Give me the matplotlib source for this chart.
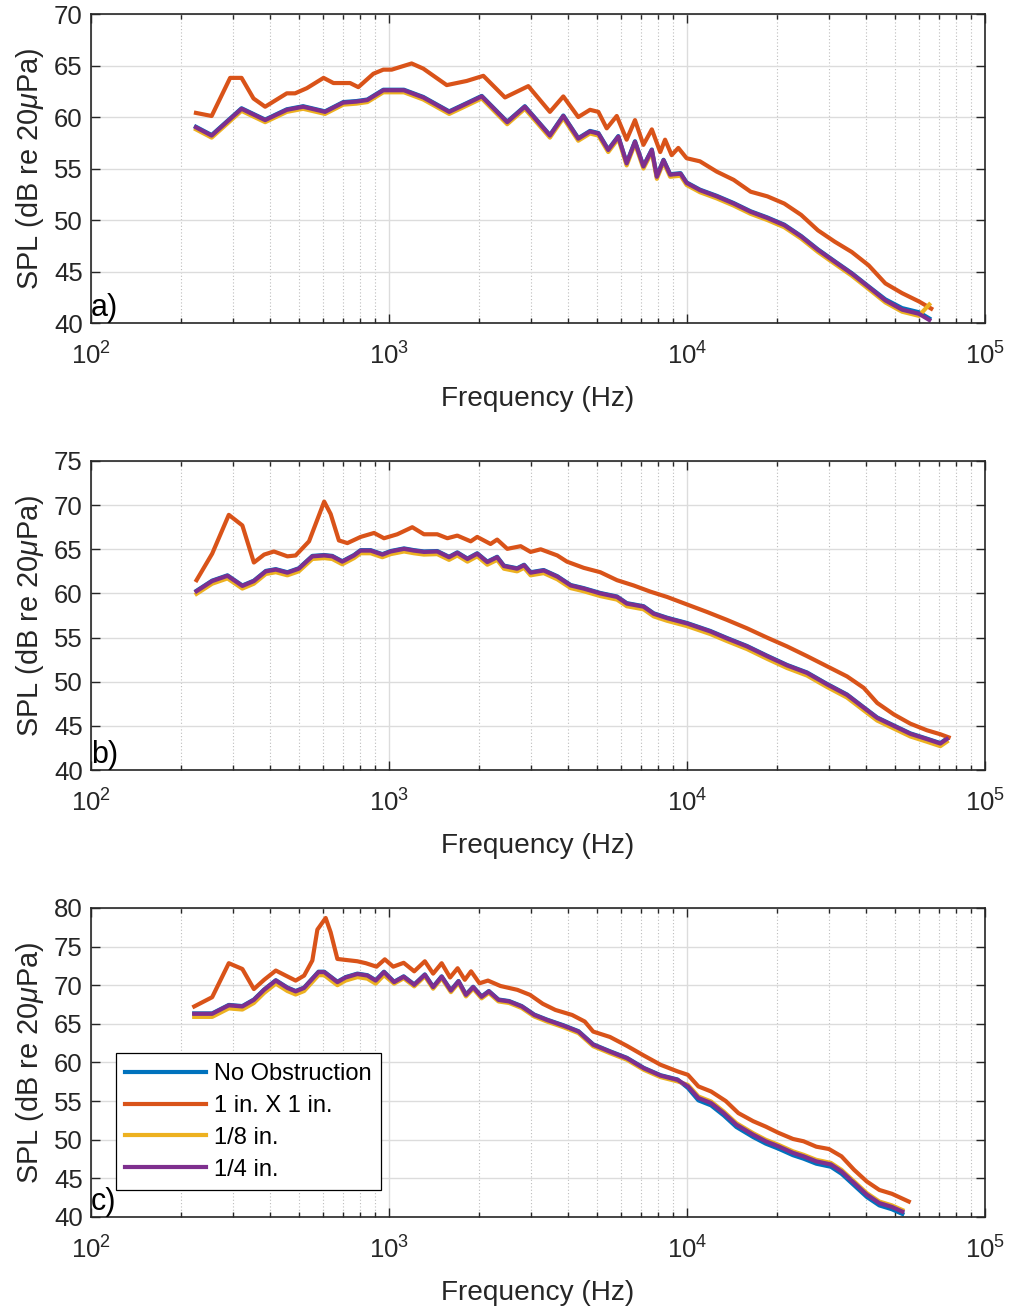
import matplotlib
matplotlib.use("Agg")
import matplotlib.pyplot as plt
from matplotlib.ticker import MultipleLocator, LogLocator, NullFormatter

plt.rcParams["font.family"] = ["Liberation Sans", "DejaVu Sans"]
plt.rcParams["mathtext.fontset"] = "custom"
plt.rcParams["mathtext.rm"] = "Liberation Sans"
plt.rcParams["mathtext.it"] = "Liberation Sans:italic"

# MATLAB default line colours
C_BLUE = "#0072BD"
C_ORANGE = "#D95319"
C_YELLOW = "#EDB120"
C_PURPLE = "#7E2F8E"

labels = ["No Obstruction", "1 in. X 1 in.", "1/8 in.", "1/4 in."]

# ---- panel a) ----
freq_a = [225, 254, 320, 384, 454, 515, 610, 702, 778, 846,
          957, 1122, 1303, 1592, 1822, 2047, 2492, 2856, 3467, 3845,
          4316, 4725, 5041, 5440, 5880, 6272, 6690, 7140, 7619, 7920,
          8340, 8780, 9510, 9970, 11050, 12580, 14340, 16350, 18600, 21200,
          24150, 27500, 31300, 35700, 40700, 46300, 52700, 60000, 65000]
none_a = [59.05, 58.25, 60.85, 59.75, 60.75, 61.05, 60.55, 61.45, 61.55, 61.7,
          62.65, 62.65, 61.95, 60.55, 61.35, 62.05, 59.55, 61.05, 58.25, 60.15,
          57.95, 58.65, 58.45, 56.85, 58.15, 55.55, 57.65, 55.25, 56.85, 54.25,
          55.85, 54.45, 54.55, 53.65, 52.95, 52.35, 51.65, 50.85, 50.25, 49.55,
          48.45, 47.15, 46.0, 44.85, 43.55, 42.3, 41.45, 41.05, 40.45]
eighth_a = [58.8, 58.0, 60.6, 59.5, 60.5, 60.8, 60.3, 61.2, 61.3, 61.45,
            62.4, 62.4, 61.7, 60.3, 61.1, 61.8, 59.3, 60.8, 58.0, 59.9,
            57.7, 58.4, 58.2, 56.6, 57.9, 55.3, 57.4, 55.0, 56.6, 54.0,
            55.6, 54.2, 54.3, 53.4, 52.7, 52.1, 51.4, 50.6, 50.0, 49.3,
            48.2, 46.9, 45.75, 44.6, 43.3, 42.0, 41.1, 40.7, 41.8]
quarter_a = [59.0, 58.2, 60.8, 59.7, 60.7, 61.0, 60.5, 61.4, 61.5, 61.65,
             62.6, 62.6, 61.9, 60.5, 61.3, 62.0, 59.5, 61.0, 58.2, 60.1,
             57.9, 58.6, 58.4, 56.8, 58.1, 55.5, 57.6, 55.2, 56.8, 54.2,
             55.8, 54.4, 54.5, 53.6, 52.9, 52.3, 51.6, 50.8, 50.2, 49.5,
             48.4, 47.1, 45.95, 44.8, 43.5, 42.2, 41.3, 40.9, 40.3]
freq_box_a = [225, 254, 293, 320, 351, 384, 454, 484, 530, 603,
              651, 740, 789, 886, 957, 1021, 1191, 1303, 1562, 1822,
              2073, 2450, 2934, 3467, 3845, 4316, 4725, 5041, 5377, 5810,
              6272, 6690, 7140, 7619, 8130, 8440, 8880, 9350, 9970, 11050,
              12580, 14340, 16350, 18600, 21200, 24150, 27500, 31300, 35700, 40700,
              46300, 52700, 60000, 66000]
box_a = [60.4, 60.1, 63.8, 63.8, 61.8, 61.0, 62.3, 62.3, 62.8, 63.8,
         63.3, 63.3, 62.9, 64.2, 64.6, 64.6, 65.2, 64.7, 63.1, 63.5,
         64.0, 61.9, 63.0, 60.5, 62.0, 60.0, 60.7, 60.5, 58.9, 60.1,
         57.8, 59.7, 57.3, 58.8, 56.6, 57.8, 56.3, 57.0, 56.0, 55.7,
         54.7, 53.9, 52.75, 52.3, 51.6, 50.5, 49.0, 47.9, 46.9, 45.6,
         43.85, 42.9, 42.1, 41.4]

# ---- panel b) ----
freq_b = [226, 255, 287, 322, 352, 386, 417, 456, 498, 553,
          606, 645, 697, 763, 803, 868, 950, 1013, 1123, 1213,
          1310, 1452, 1590, 1695, 1833, 1977, 2137, 2306, 2430, 2691,
          2840, 2986, 3304, 3671, 4073, 4500, 5118, 5823, 6280, 7150,
          7730, 8574, 10000, 11970, 13620, 15890, 18550, 21660, 25270, 29500,
          34440, 39190, 43460, 49400, 56150, 63850, 70800, 74400]
none_b = [60.3, 61.45, 62.05, 60.9, 61.45, 62.55, 62.75, 62.4, 62.85, 64.25,
          64.35, 64.25, 63.65, 64.35, 64.9, 64.9, 64.45, 64.8, 65.1, 64.9,
          64.75, 64.8, 64.15, 64.65, 63.95, 64.55, 63.6, 64.15, 63.15, 62.85,
          63.25, 62.4, 62.65, 61.95, 60.95, 60.6, 60.05, 59.65, 58.9, 58.55,
          57.75, 57.25, 56.65, 55.75, 54.95, 54.05, 52.95, 51.9, 51.05, 49.75,
          48.55, 47.1, 45.95, 45.05, 44.15, 43.55, 43.05, 43.55]
eighth_b = [59.95, 61.1, 61.7, 60.55, 61.1, 62.2, 62.4, 62.05, 62.5, 63.9,
            64.0, 63.9, 63.3, 64.0, 64.55, 64.55, 64.1, 64.45, 64.75, 64.55,
            64.4, 64.45, 63.8, 64.3, 63.6, 64.2, 63.25, 63.8, 62.8, 62.5,
            62.9, 62.05, 62.3, 61.6, 60.6, 60.25, 59.7, 59.3, 58.55, 58.2,
            57.4, 56.9, 56.3, 55.4, 54.6, 53.7, 52.6, 51.55, 50.7, 49.4,
            48.2, 46.75, 45.6, 44.7, 43.8, 43.2, 42.7, 43.2]
quarter_b = [60.25, 61.4, 62.0, 60.85, 61.4, 62.5, 62.7, 62.35, 62.8, 64.2,
             64.3, 64.2, 63.6, 64.3, 64.85, 64.85, 64.4, 64.75, 65.05, 64.85,
             64.7, 64.75, 64.1, 64.6, 63.9, 64.5, 63.55, 64.1, 63.1, 62.8,
             63.2, 62.35, 62.6, 61.9, 60.9, 60.55, 60.0, 59.6, 58.85, 58.5,
             57.7, 57.2, 56.6, 55.7, 54.9, 54.0, 52.9, 51.85, 51.0, 49.7,
             48.5, 47.05, 45.9, 45.0, 44.1, 43.5, 43.0, 43.5]
freq_box_b = [226, 255, 290, 322, 352, 381, 411, 456, 486, 539,
              606, 637, 679, 725, 803, 891, 962, 1066, 1197, 1310,
              1452, 1570, 1695, 1880, 1977, 2191, 2306, 2494, 2766, 2986,
              3228, 3671, 3955, 4500, 5118, 5823, 6624, 7538, 8574, 10000,
              11670, 13620, 15890, 18550, 21660, 25270, 29500, 34440, 39190, 43460,
              49400, 56150, 63850, 70800, 75500]
box_b = [61.5, 64.5, 68.9, 67.7, 63.5, 64.4, 64.75, 64.2, 64.3, 65.9,
         70.4, 69.0, 66.0, 65.7, 66.4, 66.85, 66.25, 66.7, 67.5, 66.7,
         66.7, 66.25, 66.55, 65.9, 66.4, 65.6, 66.1, 65.05, 65.35, 64.7,
         65.0, 64.3, 63.6, 62.9, 62.4, 61.5, 60.9, 60.2, 59.6, 58.75,
         57.9, 57.0, 56.05, 55.0, 54.0, 52.9, 51.75, 50.6, 49.3, 47.6,
         46.3, 45.25, 44.5, 44.05, 43.7]

# ---- panel c) ----
freq_c = [222, 255, 290, 322, 352, 381, 417, 456, 486, 519,
          580, 606, 671, 715, 783, 846, 902, 962, 1040, 1120,
          1215, 1319, 1406, 1502, 1613, 1711, 1812, 1916, 2045, 2163,
          2330, 2529, 2788, 3072, 3388, 3857, 4323, 4843, 5515, 6285,
          7161, 8155, 9290, 10070, 10920, 12040, 13280, 14640, 16670, 18370,
          20250, 22680, 24610, 27150, 30400, 32990, 36370, 40100, 44200, 48720,
          52800]
none_c = [66.35, 66.35, 67.45, 67.3, 68.15, 69.45, 70.65, 69.7, 69.25, 69.7,
          71.75, 71.75, 70.45, 71.05, 71.5, 71.3, 70.65, 71.75, 70.45, 71.15,
          70.1, 71.4, 69.8, 71.15, 69.35, 70.55, 68.8, 69.8, 68.55, 69.25,
          68.15, 67.95, 67.3, 66.2, 65.55, 64.8, 64.05, 62.35, 61.45, 60.6,
          59.3, 58.35, 57.8, 56.7, 55.1, 54.45, 53.15, 51.65, 50.35, 49.5,
          48.85, 48.0, 47.55, 46.9, 46.5, 45.6, 44.1, 42.6, 41.5, 41.0,
          40.4]
eighth_c = [65.9, 65.9, 67.0, 66.85, 67.7, 69.0, 70.2, 69.25, 68.8, 69.25,
            71.3, 71.3, 70.0, 70.6, 71.05, 70.85, 70.2, 71.3, 70.2, 70.9,
            69.85, 71.15, 69.55, 70.9, 69.1, 70.3, 68.55, 69.55, 68.3, 69.0,
            67.9, 67.7, 67.05, 65.95, 65.3, 64.55, 63.8, 62.1, 61.2, 60.35,
            59.05, 58.1, 57.55, 57.1, 55.6, 54.95, 53.65, 52.15, 50.85, 50.0,
            49.35, 48.5, 48.05, 47.4, 47.0, 46.1, 44.6, 43.1, 42.0, 41.5,
            40.9]
quarter_c = [66.3, 66.3, 67.4, 67.25, 68.1, 69.4, 70.6, 69.65, 69.2, 69.65,
             71.7, 71.7, 70.4, 71.0, 71.45, 71.25, 70.6, 71.7, 70.4, 71.1,
             70.05, 71.35, 69.75, 71.1, 69.3, 70.5, 68.75, 69.75, 68.5, 69.2,
             68.1, 67.9, 67.25, 66.15, 65.5, 64.75, 64.0, 62.3, 61.4, 60.55,
             59.25, 58.3, 57.75, 56.9, 55.4, 54.75, 53.45, 51.95, 50.65, 49.8,
             49.15, 48.3, 47.85, 47.2, 46.8, 45.9, 44.4, 42.9, 41.8, 41.3,
             40.7]
freq_box_c = [222, 255, 290, 322, 352, 381, 417, 450, 486, 519,
              553, 575, 613, 637, 671, 706, 783, 836, 908, 968,
              1033, 1120, 1215, 1319, 1406, 1502, 1603, 1699, 1796, 1885,
              2012, 2148, 2366, 2697, 2973, 3280, 3616, 4115, 4537, 4843,
              5515, 6285, 7161, 8155, 9290, 10070, 10920, 12040, 13500, 14870,
              16670, 18370, 20250, 22680, 24610, 27150, 29930, 32990, 36370, 40100,
              44200, 48720, 55480]
box_c = [67.25, 68.45, 72.85, 72.1, 69.5, 70.7, 71.9, 71.25, 70.6, 71.25,
         73.2, 77.2, 78.7, 76.85, 73.4, 73.3, 73.1, 72.85, 72.4, 73.35,
         72.4, 72.9, 71.8, 73.1, 71.5, 72.85, 71.0, 72.2, 70.7, 71.8,
         70.25, 70.6, 69.9, 69.4, 68.75, 67.6, 66.8, 66.15, 65.3, 64.0,
         63.3, 62.15, 60.9, 59.7, 58.85, 58.4, 56.9, 56.25, 55.0, 53.45,
         52.4, 51.7, 50.9, 50.1, 49.8, 49.1, 48.8, 47.85, 46.1, 44.6,
         43.5, 43.0, 42.0]

panels = [
    ("a)", 70, freq_a, none_a, eighth_a, quarter_a, freq_box_a, box_a),
    ("b)", 75, freq_b, none_b, eighth_b, quarter_b, freq_box_b, box_b),
    ("c)", 80, freq_c, none_c, eighth_c, quarter_c, freq_box_c, box_c),
]

# axes rectangles in figure fraction (left, bottom, width, height)
rects = [
    (0.0894, 0.7534, 0.8782, 0.2359),
    (0.0894, 0.4122, 0.8782, 0.2359),
    (0.0894, 0.0710, 0.8782, 0.2359),
]

LW = 3.0
AX_COL = "#262626"

fig = plt.figure(figsize=(10.18, 13.10), dpi=100)

for (tag, ytop, f, y_none, y_eighth, y_quarter, f_box, y_box), rect in zip(panels, rects):
    ax = fig.add_axes(rect)
    ax.plot(f, y_none, color=C_BLUE, lw=LW, label=labels[0])
    ax.plot(f_box, y_box, color=C_ORANGE, lw=LW, label=labels[1])
    ax.plot(f, y_eighth, color=C_YELLOW, lw=LW, label=labels[2])
    ax.plot(f, y_quarter, color=C_PURPLE, lw=LW, label=labels[3])

    ax.set_xscale("log")
    ax.set_xlim(1e2, 1e5)
    ax.set_ylim(40, ytop)
    ax.yaxis.set_major_locator(MultipleLocator(5))
    ax.xaxis.set_major_locator(LogLocator(base=10, numticks=10))
    ax.xaxis.set_minor_locator(LogLocator(base=10, subs=range(2, 10), numticks=20))
    ax.xaxis.set_minor_formatter(NullFormatter())

    ax.grid(True, which="major", color="#dcdcdc", lw=1.0, ls="-")
    ax.grid(True, which="minor", axis="x", color="#bdbdbd", lw=0.8, ls=(0, (1, 2)))
    ax.set_axisbelow(True)

    for sp in ax.spines.values():
        sp.set_color(AX_COL)
        sp.set_linewidth(1.2)
    ax.tick_params(which="both", direction="in", top=True, right=True,
                   color=AX_COL, labelcolor=AX_COL, width=1.0)
    ax.tick_params(which="major", length=6.5, labelsize=18.5)
    ax.tick_params(which="minor", length=3.5)
    ax.tick_params(axis="y", pad=6)
    ax.tick_params(axis="x", pad=14)

    ax.set_xlabel("Frequency (Hz)", fontsize=20.2, color=AX_COL)
    ax.set_ylabel(r"SPL (dB re 20$\mu$Pa)", fontsize=20.8, color=AX_COL)
    ax.xaxis.set_label_coords(0.5, -0.205)
    ax.yaxis.set_label_coords(-0.05, 0.5)

    ax.text(0.0, 0.0, tag, transform=ax.transAxes, ha="left", va="bottom",
            fontsize=22, color="black")

    if tag == "c)":
        leg = ax.legend(loc="lower left", bbox_to_anchor=(0.028, 0.087),
                        borderaxespad=0, fontsize=17, handlelength=3.4,
                        handletextpad=0.35, borderpad=0.4, labelspacing=0.42,
                        fancybox=False, framealpha=1, edgecolor="black")
        leg.get_frame().set_linewidth(0.9)

fig.savefig("out.png", dpi=100)
